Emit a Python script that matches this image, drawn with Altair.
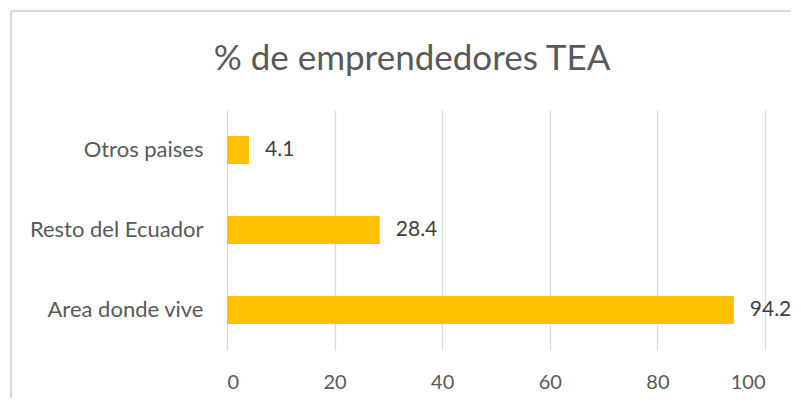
import altair as alt
import pandas as pd

categories = ["Otros paises", "Resto del Ecuador", "Area donde vive"]
values = [4.1, 28.4, 94.2]
x_ticks = [0, 20, 40, 60, 80, 100]
title_text = "% de emprendedores TEA"

df = pd.DataFrame({"cat": categories, "val": values})
tdf = pd.DataFrame({"t": [title_text]})

FONT = "Lato"

xenc = alt.X("val:Q", scale=alt.Scale(domain=[0, 100], nice=False),
             axis=alt.Axis(values=x_ticks, title=None, domain=False, ticks=False,
                           grid=True, gridColor="#d9d9d9", gridWidth=1.3,
                           labelFont=FONT, labelFontSize=20, labelColor="#595959",
                           labelPadding=22))
yenc = alt.Y("cat:N", sort=categories,
             scale=alt.Scale(paddingInner=0.65, paddingOuter=0.325),
             axis=alt.Axis(title=None, domain=False, ticks=False,
                           labelFont=FONT, labelFontSize=22, labelColor="#595959",
                           labelPadding=24))

bars = alt.Chart(df).mark_bar(color="#FFC000").encode(x=xenc, y=yenc)
labels = alt.Chart(df).mark_text(align="left", dx=16, font=FONT, fontSize=21,
                                 color="#404040").encode(
    x="val:Q", y=alt.Y("cat:N", sort=categories), text=alt.Text("val:Q", format=".1f"))

border = alt.Chart(df).mark_rect(fill=None, stroke="#d9d9d9", strokeWidth=1.3).encode(
    x=alt.value(-216), x2=alt.value(620), y=alt.value(-99), y2=alt.value(400))

title = alt.Chart(tdf).mark_text(align="center", baseline="alphabetic", font=FONT,
                                 fontSize=35, color="#595959").encode(
    x=alt.value(185), y=alt.value(-40), text="t:N")

chart = alt.layer(border, bars, labels, title).properties(
    width=538, height=240,
    padding={"left": 219, "top": 102, "right": 26, "bottom": 48},
    autosize=alt.AutoSizeParams(type="none"),
).configure_view(stroke=None)

chart.save("out.html", embed_options={"renderer": "svg", "actions": False})
